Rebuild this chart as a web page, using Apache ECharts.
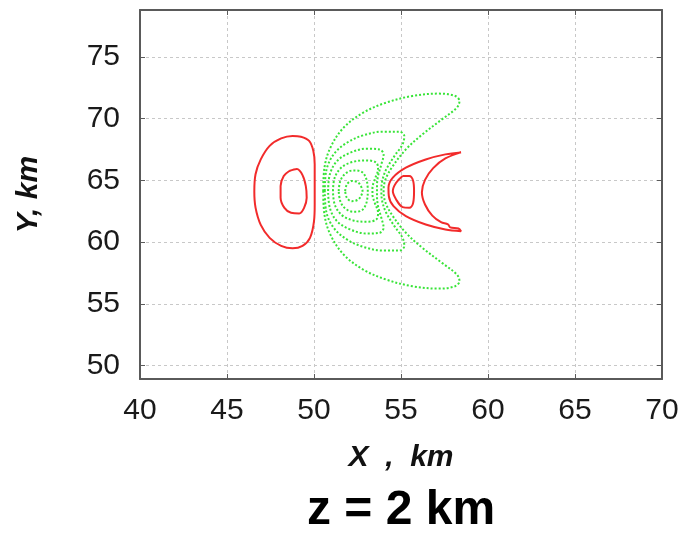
<!DOCTYPE html>
<html>
<head>
<meta charset="utf-8">
<script src="https://cdn.jsdelivr.net/npm/echarts@6/dist/echarts.min.js"></script>
<style>
html,body{margin:0;padding:0;background:#fff;}
#chart{width:690px;height:533px;}
</style>
</head>
<body>
<div id="chart"></div>
<script>
// ---- data (X, Y in km) ----
const xTicks = [40, 45, 50, 55, 60, 65, 70];
const yTicks = [50, 55, 60, 65, 70, 75];

// positive (red, solid) contours
const redOuterLeft = [
  [50.04,64.4],[50.04,66.3],[49.96,67.4],[49.72,68.2],[49.25,68.54],[48.77,68.6],
  [48.11,68.4],[47.45,67.8],[46.94,66.7],[46.64,65.5],[46.57,64.1],[46.64,62.8],
  [46.94,61.4],[47.45,60.35],[48.11,59.7],[48.77,59.5],[49.34,59.7],[49.77,60.35],
  [50.0,61.7],[50.04,63.05],[50.04,64.4]
];
const redInnerLeft = [
  [48.58,65.76],[49.02,65.92],[49.34,65.43],[49.53,64.54],[49.58,63.6],[49.43,62.78],
  [49.15,62.32],[48.68,62.38],[48.30,62.78],[48.08,63.6],[48.08,64.54],[48.26,65.35],
  [48.58,65.76]
];
const redInnerRight = [
  [55.09,65.35],[55.47,65.35],[55.70,64.95],[55.75,64.14],[55.70,63.19],[55.47,62.78],
  [55.09,62.84],[54.72,63.46],[54.53,64.14],[54.72,64.81],[55.09,65.35]
];
const redCrescent = [
  [58.45,67.27],[57.55,67.11],[56.42,66.70],[55.28,66.03],[54.53,65.22],[54.28,64.41],
  [54.30,63.73],[54.57,62.92],[55.28,62.11],[56.42,61.43],[57.55,61.03],[58.45,60.89],
  [58.30,61.11],[57.83,61.20],[57.70,61.45],[57.30,61.62],[56.80,62.15],[56.38,63.05],
  [56.20,64.05],[56.38,65.05],[56.85,66.00],[57.55,66.78],[58.45,67.27]
];

// negative (green, dotted) contours
const green1 = [
  [51.79,64.14],[51.89,64.68],[52.17,64.95],[52.55,64.81],[52.74,64.41],[52.79,64.14],
  [52.74,63.86],[52.55,63.46],[52.17,63.32],[51.89,63.59],[51.79,64.14]
];
const green2 = [
  [51.42,64.14],[51.51,64.95],[51.79,65.54],[52.26,65.81],[52.74,65.70],[52.98,65.22],
  [53.08,64.54],[53.09,64.14],[53.08,63.73],[52.98,63.05],[52.74,62.57],[52.26,62.46],
  [51.79,62.73],[51.51,63.32],[51.42,64.14]
];
const green3 = [
  [51.09,64.14],[51.19,65.22],[51.60,66.08],[52.26,66.51],[53.02,66.62],[53.58,66.43],
  [53.68,65.89],[53.49,65.08],[53.36,64.41],[53.36,64.14],[53.36,63.86],[53.49,63.19],
  [53.68,62.38],[53.58,61.84],[53.02,61.65],[52.26,61.76],[51.60,62.19],[51.19,63.05],
  [51.09,64.14]
];
const green4 = [
  [50.81,64.14],[50.91,65.49],[51.32,66.57],[52.08,67.24],[53.02,67.57],[53.77,67.51],
  [54.0,67.11],[53.87,66.30],[53.68,65.35],[53.62,64.54],[53.62,64.14],[53.62,63.73],
  [53.68,62.92],[53.87,61.97],[54.0,61.16],[53.77,60.76],[53.02,60.70],[52.08,61.03],
  [51.32,61.70],[50.91,62.78],[50.81,64.14]
];
const green5 = [
  [50.62,64.14],[50.70,65.76],[51.13,67.11],[51.89,68.05],[52.83,68.65],[53.96,68.95],
  [54.91,68.95],[55.19,68.59],[55.09,67.92],[54.62,66.97],[54.15,65.89],[53.92,64.95],
  [53.87,64.14],[53.92,63.32],[54.15,62.38],[54.62,61.30],[55.09,60.35],[55.19,59.68],
  [54.91,59.32],[53.96,59.32],[52.83,59.62],[51.89,60.22],[51.13,61.16],[50.70,62.51],
  [50.62,64.14]
];
const green6 = [
  [50.53,64.14],[50.60,66.03],[50.94,67.65],[51.70,69.27],[52.83,70.49],[54.15,71.30],
  [55.66,71.84],[57.17,72.03],[58.11,71.84],[58.36,71.43],[58.21,70.89],[57.36,69.95],
  [56.23,68.73],[55.28,67.51],[54.53,66.16],[54.11,65.08],[54.0,64.14],[54.11,63.19],
  [54.53,62.11],[55.28,60.76],[56.23,59.54],[57.36,58.32],[58.21,57.38],[58.36,56.84],
  [58.11,56.43],[57.17,56.24],[55.66,56.43],[54.15,56.97],[52.83,57.78],[51.70,59.0],
  [50.94,60.62],[50.60,62.24],[50.53,64.14]
];

const redContours = [redOuterLeft, redInnerLeft, redInnerRight, redCrescent];
const greenContours = [green1, green2, green3, green4, green5, green6];

// ---- chart ----
const RED = '#f22b2b';
const GREEN = '#38e438';
const FRAME = '#5a5a5a';
const labelFont = {fontFamily: 'Liberation Sans, Arial, sans-serif', fontSize: 30, color: '#1a1a1a'};
const nameFont = {fontFamily: 'Liberation Sans, Arial, sans-serif', fontSize: 30, fontWeight: 'bold', fontStyle: 'italic', color: '#111'};

const series = [];
redContours.forEach(c => series.push({
  type: 'line', data: c, smooth: 0.35, symbol: 'none', silent: true,
  lineStyle: {color: RED, width: 2}
}));
greenContours.forEach(c => series.push({
  type: 'line', data: c, smooth: 0.35, symbol: 'none', silent: true,
  lineStyle: {color: GREEN, width: 2, type: [2, 2]}
}));

const chart = echarts.init(document.getElementById('chart'), null, {renderer: 'canvas'});
chart.setOption({
  animation: false,
  backgroundColor: '#fff',
  title: {
    text: 'z = 2 km', left: 302, top: 482,
    textStyle: {fontFamily: 'Liberation Sans, Arial, sans-serif', fontSize: 48, fontWeight: 'bold', color: '#000'}
  },
  grid: {left: 140, right: 28, top: 10, bottom: 154, containLabel: false},
  xAxis: [{
    type: 'value', min: 40, max: 70, interval: 5, position: 'bottom',
    name: 'X  ,  km', nameLocation: 'middle', nameGap: 64, nameTextStyle: nameFont,
    axisLine: {show: true, onZero: false, lineStyle: {color: FRAME, width: 2}},
    axisTick: {show: true, inside: true, length: 5, lineStyle: {color: FRAME, width: 1}},
    axisLabel: Object.assign({margin: 17}, labelFont),
    splitLine: {show: true, lineStyle: {color: '#c8c8c8', width: 1, type: [3, 3]}}
  }, {
    type: 'value', min: 40, max: 70, interval: 5, position: 'top',
    axisLine: {show: true, onZero: false, lineStyle: {color: FRAME, width: 2}},
    axisTick: {show: true, inside: true, length: 5, lineStyle: {color: FRAME, width: 1}},
    axisLabel: {show: false}, splitLine: {show: false}
  }],
  yAxis: [{
    type: 'value', min: 48.92, max: 78.8, position: 'left',
    name: 'Y, km', nameLocation: 'middle', nameGap: 96, nameTextStyle: nameFont,
    axisLine: {show: true, onZero: false, lineStyle: {color: FRAME, width: 2}},
    axisTick: {show: true, inside: true, length: 5, customValues: yTicks, lineStyle: {color: FRAME, width: 1}},
    axisLabel: Object.assign({margin: 20, customValues: yTicks}, labelFont),
    splitLine: {show: true, lineStyle: {color: '#c8c8c8', width: 1, type: [3, 3]}}
  }, {
    type: 'value', min: 48.92, max: 78.8, position: 'right',
    axisLine: {show: true, onZero: false, lineStyle: {color: FRAME, width: 2}},
    axisTick: {show: true, inside: true, length: 5, customValues: yTicks, lineStyle: {color: FRAME, width: 1}},
    axisLabel: {show: false}, splitLine: {show: false}
  }],
  series: series
});
</script>
</body>
</html>
